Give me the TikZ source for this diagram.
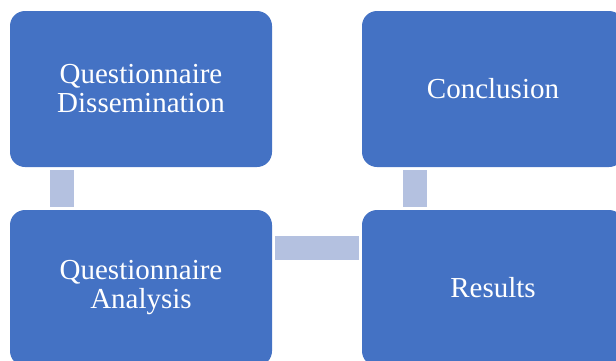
\documentclass[tikz,border=0pt]{standalone}
\usepackage{fontspec}
\setmainfont{Liberation Serif}
\usepackage{tikz}
\usetikzlibrary{positioning}

\definecolor{boxblue}{HTML}{4472C4}
\definecolor{linkblue}{HTML}{B4C1E0}

\begin{document}
\begin{tikzpicture}[x=1pt, y=1pt, node distance=352pt and 199pt, on grid,
					stepbox/.style={rectangle, rounded corners=15pt, fill=boxblue,
						minimum width=262pt, minimum height=156pt, text=white,
						align=center, font=\fontsize{29}{29}\selectfont},
					link/.style={draw=linkblue, line width=24pt, shorten >=3pt, shorten <=3pt}]
					\useasboundingbox[clip] (0,0) rectangle (616,-360);
					\node[stepbox] (dis) at (141,-89) {Questionnaire\\Dissemination};
					\node[stepbox, below=199pt of dis] (ana) {Questionnaire\\Analysis};
					\node[stepbox, right=352pt of ana] (res) {Results};
					\node[stepbox, right=352pt of dis] (con) {Conclusion};
					
					%Ligações entre as etapas
					\draw[link] ([xshift=-79pt]dis.south) -- ([xshift=-79pt]ana.north);
					\draw[link] ([yshift=40pt]ana.east) -- ([yshift=40pt]res.west);
					\draw[link] ([xshift=-78pt]res.north) -- ([xshift=-78pt]con.south);
				\end{tikzpicture}
\end{document}
